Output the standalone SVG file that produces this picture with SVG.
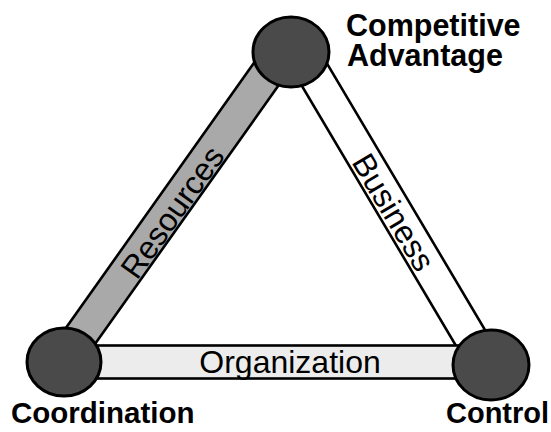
<svg xmlns="http://www.w3.org/2000/svg" width="551" height="432" viewBox="0 0 551 432">
<style>
.bar{stroke:#000;stroke-width:2.6;stroke-linejoin:miter}
.node{fill:#4a4a4a;stroke:#000;stroke-width:3}
.lbl{font-family:"Liberation Sans",Arial,sans-serif;font-weight:bold;fill:#000}
.blbl{font-family:"Liberation Sans",Arial,sans-serif;font-size:32px;fill:#000;text-anchor:middle}
</style>
<rect width="551" height="432" fill="#fff"/>
<g id="connectors">
<g id="resources">
<polygon class="bar" fill="#a9a9a9" points="295.5,61.5 75.5,371.5 48.5,352.5 268.5,42.5"/>
<text class="blbl" x="172" y="223.5" transform="rotate(-54.6 172 212)">Resources</text>
</g>
<g id="business">
<polygon class="bar" fill="#fff" points="315.2,43.6 500.2,355.6 471.8,372.4 286.8,60.4"/>
<text class="blbl" x="394" y="223.5" transform="rotate(59.3 394 212)">Business</text>
</g>
<g id="organization">
<rect class="bar" fill="#ececec" x="90" y="345.5" width="370" height="33"/>
<text class="blbl" x="290" y="373">Organization</text>
</g>
</g>
<g id="node-competitive-advantage">
<ellipse class="node" cx="291" cy="52" rx="38" ry="35"/>
<text class="lbl" font-size="30.5" x="346" y="36">Competitive</text>
<text class="lbl" font-size="30.5" x="347" y="66">Advantage</text>
</g>
<g id="node-coordination">
<ellipse class="node" cx="64" cy="362" rx="37" ry="34"/>
<text class="lbl" font-size="29.5" x="11" y="423">Coordination</text>
</g>
<g id="node-control">
<ellipse class="node" cx="491" cy="365" rx="38" ry="35"/>
<text class="lbl" font-size="29" x="446" y="423">Control</text>
</g>
</svg>
